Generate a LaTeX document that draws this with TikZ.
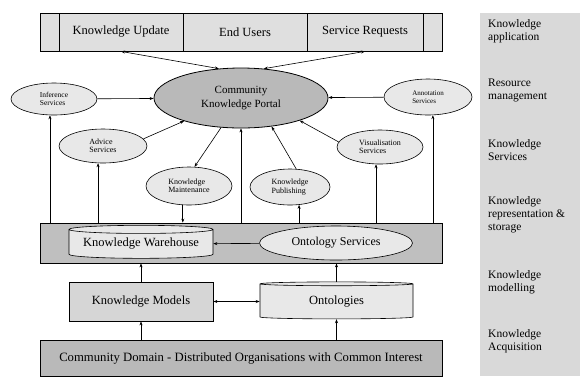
\documentclass[tikz,border=0pt]{standalone}
\usepackage{fontspec}
\setmainfont{Liberation Serif}
\usetikzlibrary{shapes.geometric,arrows.meta}

\begin{document}
\begin{tikzpicture}[x=1pt,y=-1pt,>={Stealth[length=4pt,width=3pt]}]

  \tikzstyle{box} = [draw, line width=0.8, fill=gray!25, inner sep=0]
  \tikzstyle{service} = [draw, ellipse, line width=0.6, fill=gray!18, align=left, inner sep=0, font=\fontsize{8}{8.5}\selectfont]
  \tikzstyle{store} = [draw, cylinder, shape border rotate=90, aspect=0.07, line width=0.6, fill=gray!18, inner sep=0, font=\fontsize{12.5}{13}\selectfont]
  \tikzstyle{layer} = [anchor=west, align=left, inner sep=0, font=\fontsize{11.5}{13}\selectfont]
  \tikzstyle{link} = [line width=0.6]

  \useasboundingbox (0,0) rectangle (580,376);

  % layer names on the right
  \fill[gray!30] (480,13) rectangle (580,376);
  \node[layer] (L1) at (488,31) {Knowledge\\application};
  \node[layer] (L2) at (488,90) {Resource\\management};
  \node[layer] (L3) at (488,150) {Knowledge\\Services};
  \node[layer] (L4) at (488,215) {Knowledge\\representation \&\\storage};
  \node[layer] (L5) at (488,282) {Knowledge\\modelling};
  \node[layer] (L6) at (488,341) {Knowledge\\Acquisition};

  % knowledge application
  \draw[box] (40,13) rectangle (442,51);
  \draw[line width=0.8] (59,13) -- (59,51);
  \draw[line width=0.8] (423,13) -- (423,51);
  \node[box, minimum width=124, minimum height=38, font=\fontsize{12.5}{13}\selectfont] (KU) at (121,32) {Knowledge Update};
  \node[box, minimum width=124, minimum height=38, font=\fontsize{12.5}{13}\selectfont] (EU) at (245,32) {End Users};
  \node[box, minimum width=116, minimum height=38, font=\fontsize{12.5}{13}\selectfont] (SR) at (365,32) {Service Requests};

  % portal and services
  \node[draw, ellipse, line width=0.8, fill=gray!55, minimum width=174, minimum height=60, inner sep=0, align=center, font=\fontsize{11}{13.5}\selectfont] (CKP) at (241,98) {Community\\Knowledge Portal};

  \node[service, minimum width=86, minimum height=32, font=\fontsize{7.5}{8}\selectfont] (IS) at (54,99) {Inference\\Services};
  \node[service, minimum width=88, minimum height=34] (AS) at (103,146) {Advice\\Services};
  \node[service, minimum width=86, minimum height=38] (KM) at (189,186) {Knowledge\\Maintenance};
  \node[service, minimum width=80, minimum height=36] (KP) at (290,187) {Knowledge\\Publishing};
  \node[service, minimum width=86, minimum height=34] (VS) at (380,147) {Visualisation\\Services};
  \node[service, minimum width=88, minimum height=36, font=\fontsize{7}{8}\selectfont] (ANS) at (428,97) {Annotation\\Services};

  % representation and storage
  \node[box, fill=gray!50, minimum width=402, minimum height=40] (MID) at (241,243) {};
  \node[store, minimum width=144, minimum height=33] (KW) at (141,244) {Knowledge Warehouse};
  \node[draw, ellipse, line width=0.6, fill=gray!18, minimum width=153, minimum height=34, inner sep=0, font=\fontsize{12}{13}\selectfont] (OS) at (336,243) {Ontology Services};

  % modelling and acquisition
  \node[box, fill=gray!32, minimum width=144, minimum height=39, font=\fontsize{12.5}{13}\selectfont] (KMod) at (141,301.5) {Knowledge Models};
  \node[store, minimum width=153, minimum height=37] (ONT) at (336.5,301.5) {Ontologies};
  \node[box, fill=gray!55, minimum width=402, minimum height=36, font=\fontsize{12.7}{13}\selectfont] (CD) at (241,358) {Community Domain - Distributed Organisations with Common Interest};

  % connectors
  \draw[link, <->] (KU.south) -- (CKP.127);
  \draw[link, <->] (SR.south) -- (CKP.52);
  \draw[link, ->] (IS) -- (CKP);
  \draw[link, ->] (ANS) -- (CKP);
  \draw[link, ->] (AS.10) -- (CKP.202);
  \draw[link, ->] (CKP.236) -- (KM.74);
  \draw[link, ->] (KP.71) -- (CKP.317);
  \draw[link, ->] (VS.173) -- (CKP.339);

  \draw[link, ->] (IS.256 |- MID.north) -- (IS.256);
  \draw[link, ->] (AS.254 |- MID.north) -- (AS.254);
  \draw[link, ->] (MID.north) -- (CKP.south);
  \draw[link, ->] (KP.297 |- MID.north) -- (KP.297);
  \draw[link, ->] (VS.257 |- MID.north) -- (VS.257);
  \draw[link, ->] (ANS.285 |- MID.north) -- (ANS.285);
  \draw[link, ->] (KM.252) -- (KM.252 |- MID.north);
  \draw[link, ->] (OS) -- (KW);

  \draw[link, ->] (KMod.north) -- (KMod.north |- MID.south);
  \draw[link, ->] (ONT.north) -- (ONT.north |- MID.south);
  \draw[link, <->] (KMod.east) -- (ONT.west);
  \draw[link, ->] (KMod.south |- CD.north) -- (KMod.south);
  \draw[link, ->] (ONT.south |- CD.north) -- (ONT.south);

\end{tikzpicture}
\end{document}
